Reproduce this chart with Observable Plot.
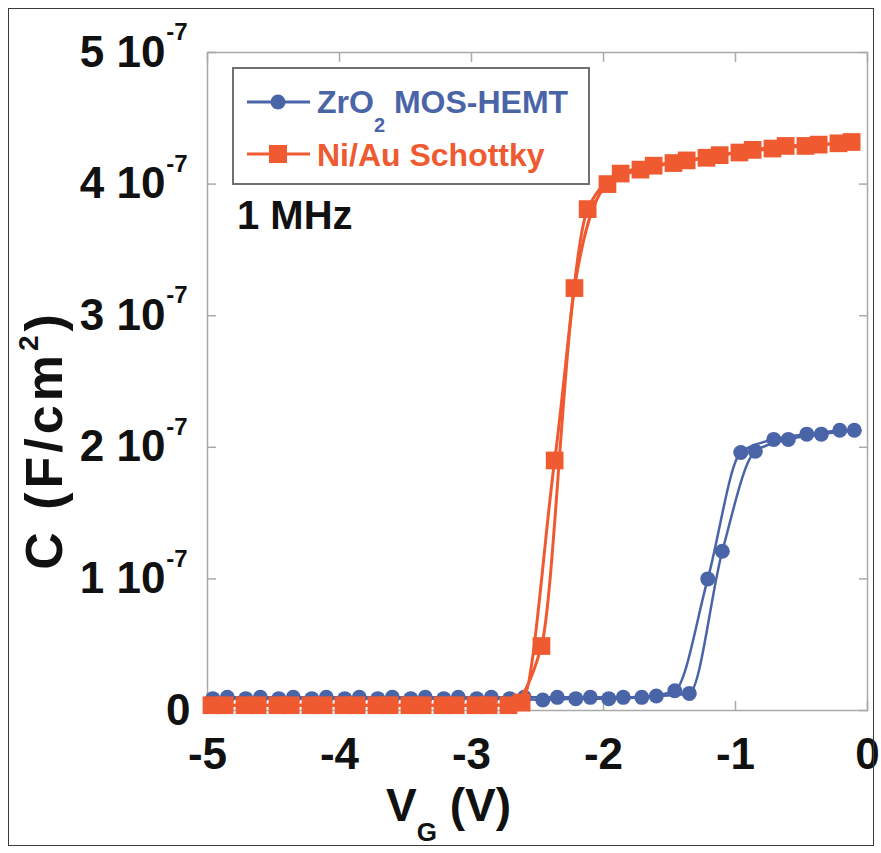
<!DOCTYPE html>
<html>
<head>
<meta charset="utf-8">
<script src="https://cdn.jsdelivr.net/npm/d3@7"></script>
<script src="https://cdn.jsdelivr.net/npm/@observablehq/plot@0.6"></script>
<style>
  html, body { margin: 0; padding: 0; background: #fff; }
  #wrap { position: relative; width: 881px; height: 853px; font-family: "Liberation Sans", Arial, Helvetica, sans-serif; }
  #border { position: absolute; left: 8px; top: 8px; width: 866px; height: 838px; box-sizing: border-box; border: 1.5px solid #3a3a3a; pointer-events: none; }
  #plot { position: absolute; left: 0; top: 0; }
  #overlay { position: absolute; left: 0; top: 0; pointer-events: none; }
</style>
</head>
<body>
<div id="wrap">
  <div id="plot"></div>
  <svg id="overlay" width="881" height="853"></svg>
  <div id="border"></div>
</div>
<script>
// ---- Data (C in units of 1e-7 F/cm^2, V_G in volts) ----
// ZrO2 MOS-HEMT: two sweeps (hysteresis)
const blueV_A = [-4.96,-4.71,-4.46,-4.21,-3.96,-3.71,-3.46,-3.21,-2.96,-2.71,-2.46,-2.21,-1.96,-1.71,-1.46,-1.21,-0.96,-0.71,-0.46,-0.21];
const blueC_A = [0.09,0.09,0.09,0.09,0.09,0.09,0.09,0.09,0.09,0.09,0.08,0.09,0.09,0.10,0.15,1.00,1.96,2.06,2.10,2.13];
const blueV_B = [-4.85,-4.60,-4.35,-4.10,-3.85,-3.60,-3.35,-3.10,-2.85,-2.60,-2.35,-2.10,-1.85,-1.60,-1.35,-1.10,-0.85,-0.60,-0.35,-0.10];
const blueC_B = [0.10,0.10,0.10,0.10,0.10,0.10,0.10,0.10,0.10,0.10,0.10,0.10,0.10,0.11,0.13,1.21,1.97,2.06,2.10,2.13];
// Ni/Au Schottky: two sweeps (hysteresis)
const orangeV_A = [-4.97,-4.72,-4.47,-4.22,-3.97,-3.72,-3.47,-3.22,-2.97,-2.72,-2.47,-2.22,-1.97,-1.72,-1.47,-1.22,-0.97,-0.72,-0.47,-0.22];
const orangeC_A = [0.04,0.04,0.04,0.04,0.04,0.04,0.04,0.04,0.04,0.04,0.49,3.21,4.00,4.11,4.16,4.20,4.24,4.27,4.29,4.31];
const orangeV_B = [-4.87,-4.62,-4.37,-4.12,-3.87,-3.62,-3.37,-3.12,-2.87,-2.62,-2.37,-2.12,-1.87,-1.62,-1.37,-1.12,-0.87,-0.62,-0.37,-0.12];
const orangeC_B = [0.04,0.04,0.04,0.04,0.04,0.04,0.04,0.04,0.04,0.06,1.90,3.81,4.08,4.14,4.18,4.22,4.26,4.29,4.30,4.32];

// Ticks
const xTicks = [-5,-4,-3,-2,-1,0];
const xTickLabels = ["-5","-4","-3","-2","-1","0"];
const yTicks = [0,1,2,3,4,5];
const yTickMantissa = ["0","1 10","2 10","3 10","4 10","5 10"];
const yTickExponent = ["","-7","-7","-7","-7","-7"];

const seriesNames = ["ZrO2 MOS-HEMT", "Ni/Au Schottky"];
const blue = "#4a64a8";
const orange = "#ef5a30";
const frameGrey = "#a9a9a9";

const zip = (V, C) => V.map((v, i) => ({V: v, C: C[i]}));
const blueA = zip(blueV_A, blueC_A), blueB = zip(blueV_B, blueC_B);
const orangeA = zip(orangeV_A, orangeC_A), orangeB = zip(orangeV_B, orangeC_B);

const xLab = new Map(xTicks.map((d, i) => [d, xTickLabels[i]]));
const yLab = new Map(yTicks.map((d, i) => [d, yTickMantissa[i]]));
const yExp = yTicks.map((d, i) => ({v: d, e: yTickExponent[i]})).filter(d => d.e);
const yTicksPlain = yTicks.filter((d, i) => !yTickExponent[i]);
const yTicksExp = yTicks.filter((d, i) => yTickExponent[i]);

const font = '"Liberation Sans", Arial, Helvetica, sans-serif';

const plot = Plot.plot({
  width: 881,
  height: 853,
  marginLeft: 207,
  marginRight: 14,
  marginTop: 52,
  marginBottom: 143,
  x: {domain: [-5, 0]},
  y: {domain: [0, 5]},
  style: {fontFamily: font, fontWeight: "bold", color: "#111", background: "transparent", overflow: "visible"},
  marks: [
    Plot.frame({stroke: frameGrey, strokeWidth: 1.5}),
    // inward ticks on all four sides
    Plot.axisX(xTicks, {anchor: "bottom", tickSize: -9, tickFormat: () => "", stroke: frameGrey, strokeWidth: 1.5, label: null}),
    Plot.axisX(xTicks, {anchor: "top", tickSize: -9, tickFormat: () => "", stroke: frameGrey, strokeWidth: 1.5, label: null}),
    Plot.axisY(yTicks, {anchor: "left", tickSize: -9, tickFormat: () => "", stroke: frameGrey, strokeWidth: 1.5, label: null}),
    Plot.axisY(yTicks, {anchor: "right", tickSize: -9, tickFormat: () => "", stroke: frameGrey, strokeWidth: 1.5, label: null}),
    // tick labels
    Plot.axisX(xTicks, {anchor: "bottom", tickSize: 0, tickPadding: 27, tickFormat: d => xLab.get(d), fontSize: 44, fontWeight: "bold", fill: "#111", label: null}),
    Plot.axisY(yTicksPlain, {anchor: "left", tickSize: 0, tickPadding: 17, tickFormat: d => yLab.get(d), fontSize: 44, fontWeight: "bold", fill: "#111", label: null}),
    Plot.axisY(yTicksExp, {anchor: "left", tickSize: 0, tickPadding: 42, tickFormat: d => yLab.get(d), fontSize: 44, fontWeight: "bold", fill: "#111", label: null}),
    Plot.text(yExp, {frameAnchor: "left", y: "v", text: "e", dx: -20, dy: -20, textAnchor: "end", fontSize: 24, fontWeight: "bold", fill: "#111"}),
    // ZrO2 MOS-HEMT
    Plot.line(blueA, {x: "V", y: "C", stroke: blue, strokeWidth: 2.5, curve: "monotone-x"}),
    Plot.line(blueB, {x: "V", y: "C", stroke: blue, strokeWidth: 2.5, curve: "monotone-x"}),
    Plot.dot(blueA, {x: "V", y: "C", r: 7.5, fill: blue, symbol: "circle"}),
    Plot.dot(blueB, {x: "V", y: "C", r: 7.5, fill: blue, symbol: "circle"}),
    // Ni/Au Schottky
    Plot.line(orangeA, {x: "V", y: "C", stroke: orange, strokeWidth: 3, curve: "monotone-x"}),
    Plot.line(orangeB, {x: "V", y: "C", stroke: orange, strokeWidth: 3, curve: "monotone-x"}),
    Plot.dot(orangeA, {x: "V", y: "C", r: 10, fill: orange, symbol: "square"}),
    Plot.dot(orangeB, {x: "V", y: "C", r: 10, fill: orange, symbol: "square"})
  ]
});
document.getElementById("plot").appendChild(plot);

// ---- Overlay: legend, annotation, axis titles ----
const ov = d3.select("#overlay").attr("font-family", font).attr("font-weight", "bold");

// legend box
ov.append("rect").attr("x", 233).attr("y", 68).attr("width", 356).attr("height", 116)
  .attr("fill", "#fff").attr("stroke", "#707070").attr("stroke-width", 2);
// row 1
ov.append("line").attr("x1", 247).attr("x2", 310).attr("y1", 102).attr("y2", 102).attr("stroke", blue).attr("stroke-width", 3);
ov.append("circle").attr("cx", 278).attr("cy", 102).attr("r", 7.5).attr("fill", blue);
const t1 = ov.append("text").attr("x", 317).attr("y", 113).attr("font-size", 32).attr("fill", blue);
t1.append("tspan").text("ZrO");
t1.append("tspan").attr("font-size", 20).attr("dy", 19).text("2");
t1.append("tspan").attr("dy", -19).text(" MOS-HEMT");
// row 2
ov.append("line").attr("x1", 247).attr("x2", 310).attr("y1", 154).attr("y2", 154).attr("stroke", orange).attr("stroke-width", 3);
ov.append("rect").attr("x", 269).attr("y", 145).attr("width", 18).attr("height", 18).attr("fill", orange);
ov.append("text").attr("x", 317).attr("y", 166).attr("font-size", 32).attr("fill", orange).text(seriesNames[1]);

// frequency annotation
ov.append("text").attr("x", 237).attr("y", 229).attr("font-size", 40).attr("fill", "#111").text("1 MHz");

// y-axis title
const yt = ov.append("text").attr("transform", "translate(62,440) rotate(-90)").attr("text-anchor", "middle")
  .attr("font-size", 52).attr("letter-spacing", 4).attr("fill", "#111");
yt.append("tspan").text("C (F/cm");
yt.append("tspan").attr("font-size", 28).attr("dy", -24).text("2");
yt.append("tspan").attr("dy", 24).text(")");

// x-axis title
const xt = ov.append("text").attr("x", 386).attr("y", 821).attr("font-size", 46).attr("fill", "#111");
xt.append("tspan").text("V");
xt.append("tspan").attr("font-size", 26).attr("dy", 20).text("G");
xt.append("tspan").attr("dy", -20).text(" (V)");
</script>
</body>
</html>
